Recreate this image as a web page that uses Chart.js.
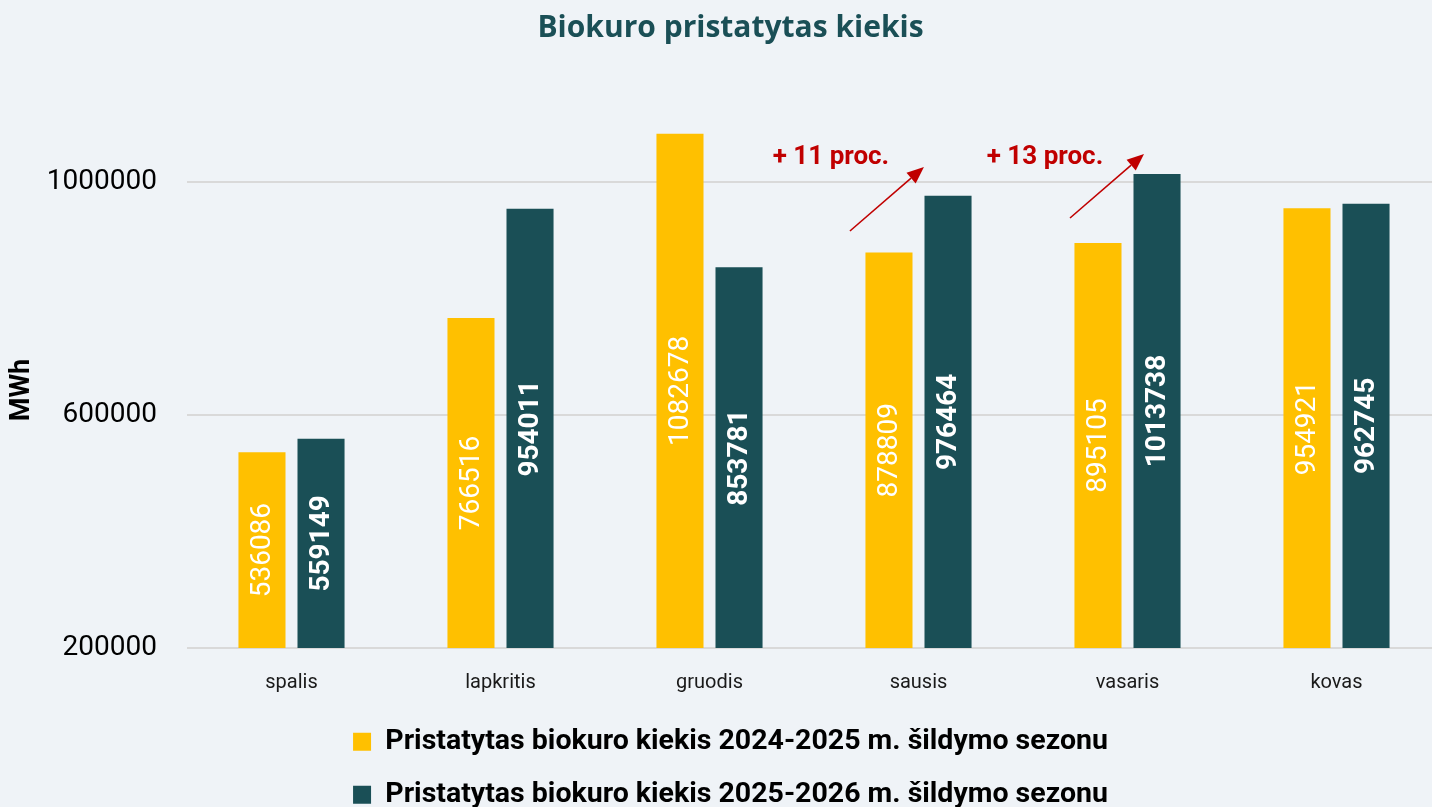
<!DOCTYPE html>
<html><head><meta charset="utf-8">
<script src="https://cdn.jsdelivr.net/npm/chart.js@4.4.1/dist/chart.umd.min.js"></script>
<style>
html,body{margin:0;padding:0;background:#EFF3F7;overflow:hidden;width:1432px;height:807px}
#wrap{position:absolute;left:0;top:0;width:1480px;height:850px}
</style>
</head><body><div id="wrap"><canvas id="c" width="1480" height="850"></canvas></div>
<script>
const categories = ['spalis', 'lapkritis', 'gruodis', 'sausis', 'vasaris', 'kovas'];
const season2024 = [536086, 766516, 1082678, 878809, 895105, 954921];
const season2025 = [559149, 954011, 853781, 976464, 1013738, 962745];
const seriesNames = [
  'Pristatytas biokuro kiekis 2024-2025 m. šildymo sezonu',
  'Pristatytas biokuro kiekis 2025-2026 m. šildymo sezonu'
];
const yTickValues = [200000, 600000, 1000000];
const changeLabels = ['+ 11 proc.', '+ 13 proc.'];

const YELLOW = '#FFC000';
const TEAL = '#1A4F56';
const RED = '#C00000';

const valueLabels = {
  id: 'valueLabels',
  afterDatasetsDraw(chart) {
    const ctx = chart.ctx;
    const bottom = chart.chartArea.bottom;
    chart.data.datasets.forEach((ds, di) => {
      const meta = chart.getDatasetMeta(di);
      meta.data.forEach((bar, i) => {
        const base = Math.min(bar.base, bottom);
        ctx.save();
        ctx.translate(bar.x, (bar.y + base) / 2);
        ctx.rotate(-Math.PI / 2);
        ctx.font = (di === 1 ? 'bold ' : '') + '28px Roboto';
        ctx.fillStyle = '#FFFFFF';
        ctx.textAlign = 'center';
        ctx.textBaseline = 'middle';
        ctx.fillText(String(ds.data[i]), 0, 1);
        ctx.restore();
      });
    });
  }
};

const changeArrows = {
  id: 'changeArrows',
  afterDatasetsDraw(chart, args, opts) {
    const ctx = chart.ctx;
    const xs = chart.scales.x, ys = chart.scales.y;
    opts.items.forEach((it, k) => {
      const x0 = xs.getPixelForValue(it.from[0]), y0 = ys.getPixelForValue(it.from[1]);
      const x1 = xs.getPixelForValue(it.to[0]), y1 = ys.getPixelForValue(it.to[1]);
      const ang = Math.atan2(y1 - y0, x1 - x0);
      const headLen = 17, headHalf = 7;
      const bx = x1 - headLen * Math.cos(ang), by = y1 - headLen * Math.sin(ang);
      ctx.save();
      ctx.strokeStyle = RED;
      ctx.fillStyle = RED;
      ctx.lineWidth = 1.6;
      ctx.beginPath();
      ctx.moveTo(x0, y0);
      ctx.lineTo(bx, by);
      ctx.stroke();
      ctx.beginPath();
      ctx.moveTo(x1, y1);
      ctx.lineTo(bx + headHalf * Math.sin(ang), by - headHalf * Math.cos(ang));
      ctx.lineTo(bx - headHalf * Math.sin(ang), by + headHalf * Math.cos(ang));
      ctx.closePath();
      ctx.fill();
      ctx.font = 'bold 26px Roboto';
      ctx.textAlign = 'center';
      ctx.textBaseline = 'middle';
      ctx.fillText(changeLabels[k], xs.getPixelForValue(it.text[0]), ys.getPixelForValue(it.text[1]));
      ctx.restore();
    });
  }
};

const yAxisTitle = {
  id: 'yAxisTitle',
  afterDraw(chart) {
    const ctx = chart.ctx;
    const a = chart.chartArea;
    ctx.save();
    ctx.translate(22, a.bottom - 258);
    ctx.rotate(-Math.PI / 2);
    ctx.font = 'bold 27px Roboto';
    ctx.fillStyle = '#000000';
    ctx.textAlign = 'center';
    ctx.textBaseline = 'middle';
    ctx.fillText('MWh', 0, 0);
    ctx.restore();
  }
};

new Chart(document.getElementById('c'), {
  type: 'bar',
  data: {
    labels: categories,
    datasets: [
      { label: seriesNames[0], data: season2024, backgroundColor: YELLOW, borderWidth: 0 },
      { label: seriesNames[1], data: season2025, backgroundColor: TEAL, borderWidth: 0 }
    ]
  },
  options: {
    responsive: false,
    animation: false,
    devicePixelRatio: 1,
    layout: { padding: { left: 20, right: 39, top: 0, bottom: 31 } },
    datasets: { bar: { categoryPercentage: 0.565, barPercentage: 0.797 } },
    scales: {
      x: {
        afterFit(scale) { scale.height = 55; },
        grid: { display: false, drawTicks: false },
        border: { display: false },
        ticks: { color: '#1a1a1a', font: { family: 'Roboto', size: 20, lineHeight: '24px' }, padding: 23 }
      },
      y: {
        min: 200000,
        max: 1200000,
        afterBuildTicks(scale) {
          scale.ticks = yTickValues.map(v => ({ value: v }));
        },
        afterFit(scale) { scale.width = 167; },
        grid: { color: '#D9D9D9', lineWidth: 2, drawTicks: false },
        border: { display: false },
        ticks: {
          color: '#000000',
          font: { family: 'Roboto', size: 28 },
          padding: 30,
          callback: (v) => String(v)
        }
      }
    },
    plugins: {
      title: {
        display: true,
        text: 'Biokuro pristatytas kiekis',
        color: '#1A4F56',
        font: { family: 'Open Sans', size: 30, weight: 'bold', lineHeight: 1.2 },
        padding: { top: 10, bottom: 19.5 }
      },
      legend: {
        position: 'bottom',
        labels: {
          color: '#000000',
          font: { family: 'Roboto', size: 28.5, weight: 'bold' },
          boxWidth: 18,
          boxHeight: 18,
          padding: 24.5
        }
      },
      tooltip: { enabled: false },
      changeArrows: {
        items: [
          { from: [2.672, 915880], to: [3.026, 1025751], text: [2.581, 1042918] },
          { from: [3.725, 938197], to: [4.079, 1048069], text: [3.605, 1042918] }
        ]
      }
    }
  },
  plugins: [valueLabels, changeArrows, yAxisTitle]
});
</script>
</body></html>
